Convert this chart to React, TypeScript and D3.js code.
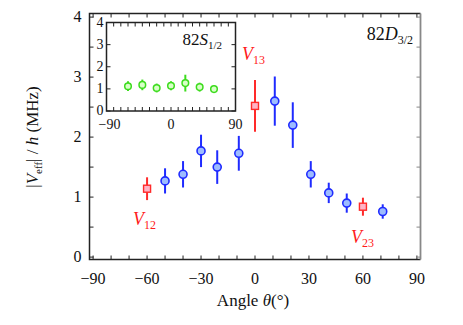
import React from 'react';
import * as d3 from 'd3';

// main panel: 82D3/2 (blue circles) + V12/V13/V23 (red squares)
const blueAngles = [-50, -40, -30, -21, -9, 11, 21, 31, 41, 51, 71];
const blueValues = [1.27, 1.38, 1.77, 1.5, 1.73, 2.6, 2.2, 1.38, 1.07, 0.9, 0.76];
const blueErrors = [0.21, 0.22, 0.27, 0.28, 0.29, 0.41, 0.38, 0.22, 0.17, 0.16, 0.12];

const redAngles = [-60, 0, 60];
const redValues = [1.14, 2.52, 0.84];
const redErrors = [0.19, 0.43, 0.15];
const redLabels = ['12', '13', '23'];

// inset: 82S1/2
const greenAngles = [-60, -40, -20, 0, 20, 40, 60];
const greenValues = [1.12, 1.18, 1.04, 1.14, 1.26, 1.08, 0.99];
const greenErrors = [0.22, 0.24, 0.2, 0.2, 0.38, 0.2, 0.16];

const xTicks = [-90, -60, -30, 0, 30, 60, 90];
const yTicks = [0, 1, 2, 3, 4];
const insetXTicks = [-90, 0, 90];

const FONT = '"Liberation Serif", "DejaVu Serif", serif';
const INK = '#222';

const minus = (v: number) => (v < 0 ? '\u2212' + Math.abs(v) : String(v));

export default function App() {
  // main axes
  const x = d3.scaleLinear().domain([-92, 92]).range([89.5, 420.5]);
  const y = d3.scaleLinear().domain([-0.04, 4.06]).range([259.5, 13.5]);
  // inset axes
  const ix = d3.scaleLinear().domain([-90, 90]).range([106.5, 235.5]);
  const iy = d3.scaleLinear().domain([0, 4]).range([111, 22.5]);

  const tl = 4; // tick length
  const minorX = d3.range(-90, 91, 10);
  const minorY = d3.range(0, 4.01, 0.5);
  const insetMinorX = d3.range(-80, 81, 10);

  const [x0, x1] = x.range();
  const [y0, y1] = y.range();
  const [ix0, ix1] = ix.range();
  const [iy0, iy1] = iy.range();

  const redLabelPos = [
    { dx: -14, dy: 36 },
    { dx: -13, dy: -46 },
    { dx: -12, dy: 36 },
  ];

  return (
    <svg width={463} height={325} style={{ position: 'absolute', left: 0, top: 0 }} fontFamily={FONT}>
      <rect width={463} height={325} fill="#fff" />

      {/* main ticks */}
      <g stroke={INK} strokeWidth={1}>
        {minorX.map(t => (
          <g key={'mx' + t}>
            <line x1={x(t)} x2={x(t)} y1={y0} y2={y0 - tl} />
            <line x1={x(t)} x2={x(t)} y1={y1} y2={y1 + tl} />
          </g>
        ))}
        {minorY.map(t => (
          <line key={'my' + t} x1={x0} x2={x0 + tl} y1={y(t)} y2={y(t)} />
        ))}
      </g>
      <g stroke="#888" strokeWidth={1}>
        {minorY.map(t => (
          <line key={'ry' + t} x1={x1} x2={x1 - tl} y1={y(t)} y2={y(t)} />
        ))}
      </g>
      {/* main frame */}
      <path d={`M${x1},${y0} L${x0},${y0} L${x0},${y1} L${x1},${y1}`} fill="none" stroke={INK} strokeWidth={1.5} />
      <line x1={x1} x2={x1} y1={y1} y2={y0} stroke="#888" strokeWidth={1.8} />

      {/* main tick labels */}
      <g fontSize={16} fill="#111">
        {xTicks.map(t => (
          <text key={'xl' + t} x={x(t)} y={y0 + 24} textAnchor="middle">{minus(t)}</text>
        ))}
        {yTicks.map(t => (
          <text key={'yl' + t} x={x0 - 8} y={y(t) + 5} textAnchor="end">{t}</text>
        ))}
      </g>

      {/* axis titles */}
      <text x={253} y={306} fontSize={17} textAnchor="middle" fill="#111">
        Angle <tspan fontStyle="italic">θ</tspan>(°)
      </text>
      <text transform="translate(38,137) rotate(-90)" fontSize={17} textAnchor="middle" fill="#111">
        |<tspan fontStyle="italic">V</tspan>
        <tspan fontSize={11} dy={4}>eff</tspan>
        <tspan dy={-4}>| / </tspan>
        <tspan fontStyle="italic">h</tspan> (MHz)
      </text>

      <text x={413} y={40} fontSize={18} textAnchor="end" fill="#111">
        82<tspan fontStyle="italic">D</tspan>
        <tspan fontSize={12} dy={4}>3/2</tspan>
      </text>

      {/* blue data */}
      <g>
        {blueAngles.map((a, i) => (
          <g key={'b' + i}>
            <line x1={x(a)} x2={x(a)} y1={y(blueValues[i] + blueErrors[i])} y2={y(blueValues[i] - blueErrors[i])}
              stroke="#1f2bff" strokeWidth={2} />
            <circle cx={x(a)} cy={y(blueValues[i])} r={4} fill="#9dbcff" stroke="#1f2bff" strokeWidth={1.6} />
          </g>
        ))}
      </g>

      {/* red data */}
      <g>
        {redAngles.map((a, i) => (
          <g key={'r' + i}>
            <line x1={x(a)} x2={x(a)} y1={y(redValues[i] + redErrors[i])} y2={y(redValues[i] - redErrors[i])}
              stroke="#ff2a2a" strokeWidth={2} />
            <rect x={x(a) - 3.5} y={y(redValues[i]) - 3.5} width={7} height={7} fill="#ffb3c6" stroke="#ff2a2a" strokeWidth={1.4} />
            <text x={x(a) + redLabelPos[i].dx} y={y(redValues[i]) + redLabelPos[i].dy} fontSize={18} fill="#ff1a1a">
              <tspan fontStyle="italic">V</tspan>
              <tspan fontSize={12} dy={4}>{redLabels[i]}</tspan>
            </text>
          </g>
        ))}
      </g>

      {/* inset */}
      <rect x={ix0 - 2} y={iy1 - 2} width={ix1 - ix0 + 4} height={iy0 - iy1 + 4} fill="#fff" />
      <g stroke={INK} strokeWidth={1}>
        {insetMinorX.map(t => (
          <g key={'imx' + t}>
            <line x1={ix(t)} x2={ix(t)} y1={iy0} y2={iy0 - tl} />
            <line x1={ix(t)} x2={ix(t)} y1={iy1} y2={iy1 + tl} />
          </g>
        ))}
        {yTicks.map(t => (
          <g key={'imy' + t}>
            <line x1={ix0} x2={ix0 + tl} y1={iy(t)} y2={iy(t)} />
            <line x1={ix1} x2={ix1 - tl} y1={iy(t)} y2={iy(t)} />
          </g>
        ))}
      </g>
      <rect x={ix0} y={iy1} width={ix1 - ix0} height={iy0 - iy1} fill="none" stroke={INK} strokeWidth={1.5} />
      <g fontSize={14} fill="#111">
        {yTicks.map(t => (
          <text key={'iyl' + t} x={ix0 - 3} y={iy(t) + 4} textAnchor="end">{t}</text>
        ))}
        {insetXTicks.map(t => (
          <text key={'ixl' + t} x={ix(t) + (t < 0 ? 3 : 0)} y={iy0 + 18} textAnchor="middle">{minus(t)}</text>
        ))}
      </g>
      <text x={222} y={45} fontSize={17} textAnchor="end" fill="#111">
        82<tspan fontStyle="italic">S</tspan>
        <tspan fontSize={11} dy={4}>1/2</tspan>
      </text>
      <g>
        {greenAngles.map((a, i) => (
          <g key={'g' + i}>
            <line x1={ix(a)} x2={ix(a)} y1={iy(greenValues[i] + greenErrors[i])} y2={iy(greenValues[i] - greenErrors[i])}
              stroke="#3ddc1e" strokeWidth={2} />
            <circle cx={ix(a)} cy={iy(greenValues[i])} r={3.3} fill="#d8ffc8" stroke="#3ddc1e" strokeWidth={1.5} />
          </g>
        ))}
      </g>
    </svg>
  );
}
